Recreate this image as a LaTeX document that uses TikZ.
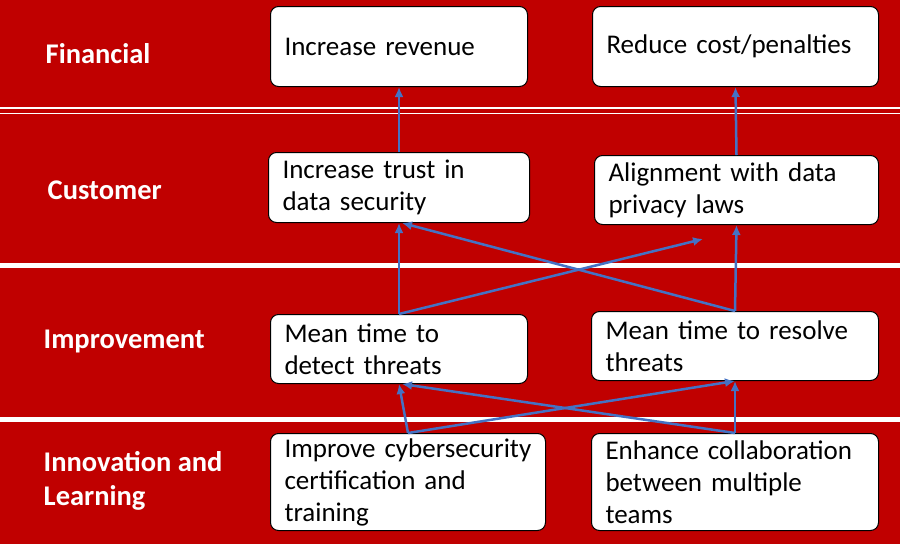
\documentclass[tikz,border=0pt]{standalone}
\usepackage{fontspec}
\setmainfont{Carlito}
\definecolor{bandred}{RGB}{192,0,0}
\definecolor{arrowblue}{RGB}{68,114,196}
\tikzset{every picture/.style={line width=0.75pt}}
\tikzset{
  goal/.style={draw=black, fill=white, rounded corners=8pt, line width=1pt, anchor=north west, align=left, inner xsep=14pt, font=\fontsize{27}{32}\selectfont},
  perspective/.style={anchor=west, text=white, align=left, font=\fontsize{28.5}{34}\selectfont\bfseries},
  link/.style={draw=arrowblue, line width=2.5pt, -{Latex[length=10pt,width=9pt]}}
}
\usetikzlibrary{arrows.meta}
\begin{document}
\begin{tikzpicture}[x=1pt,y=1pt,yscale=-1,xscale=1]
	\useasboundingbox (0,0) rectangle (900,544);
	% bands
	\fill[bandred] (0,0) rectangle (900,544);
	\fill[white] (0,107) rectangle (900,108.5);
	\fill[white] (0,112.5) rectangle (900,114);
	\fill[white] (0,263) rectangle (900,268);
	\fill[white] (0,417) rectangle (900,421.5);
	
	% perspective labels
	\node[perspective] (fin) at (42,54) {Financial};
	\node[perspective] (cus) at (44,190) {Customer};
	\node[perspective] (imp) at (40,341) {Improvement};
	\node[perspective] (inn) at (40,481) {Innovation and\\Learning};
	
	% goal boxes
	\node[goal, text width=229pt, minimum height=80pt] (rev) at (270,6) {Increase revenue};
	\node[goal, text width=258pt, minimum height=80pt] (cost) at (592,6) {Reduce cost/penalties};
	\node[goal, text width=233pt, minimum height=70pt] (trust) at (268,152) {Increase trust in\\data security};
	\node[goal, text width=256pt, minimum height=69pt] (align) at (594,155) {Alignment with data\\privacy laws};
	\node[goal, text width=229pt, minimum height=69pt] (detect) at (270,314) {Mean time to\\detect threats};
	\node[goal, text width=259pt, minimum height=69pt] (resolve) at (591,311) {Mean time to resolve\\threats};
	\node[goal, text width=247pt, minimum height=97pt] (cert) at (270,433) {Improve cybersecurity\\certification and\\training};
	\node[goal, text width=259pt, minimum height=97pt] (collab) at (591,433) {Enhance collaboration\\between multiple teams};
	\coordinate (loose) at (703,239);
	
	% links
	\draw[link] (trust.north) -- (rev.south);
	\draw[link] (align.north) -- (cost.south);
	\draw[link] (detect.north) -- (trust.south);
	\draw[link] (detect.north) -- (loose);
	\draw[link] (resolve.north) -- ([xshift=3pt]trust.south);
	\draw[link] (resolve.north) -- (align.south);
	\draw[link] (cert.north) -- (detect.south);
	\draw[link] (cert.north) -- (resolve.south);
	\draw[link] (collab.north) -- ([xshift=3pt]detect.south);
	\draw[link] (collab.north) -- (resolve.south);
\end{tikzpicture}
\end{document}
